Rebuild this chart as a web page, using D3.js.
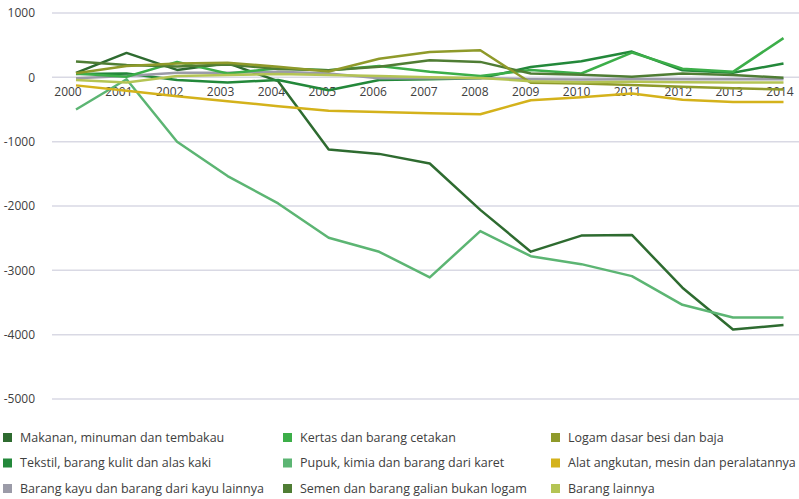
<!DOCTYPE html>
<html><head><meta charset="utf-8">
<script src="https://cdn.jsdelivr.net/npm/d3@7/dist/d3.min.js"></script>
<style>body{margin:0;background:#fff;} svg{display:block;font-family:"Open Sans",sans-serif;}</style>
</head><body><svg id="c" width="799" height="499"></svg>
<script>
const years = ["2000","2001","2002","2003","2004","2005","2006","2007","2008","2009","2010","2011","2012","2013","2014"];
const yTicks = [1000,0,-1000,-2000,-3000,-4000,-5000];
const seriesNames = ["Makanan, minuman dan tembakau","Tekstil, barang kulit dan alas kaki","Barang kayu dan barang dari kayu lainnya","Kertas dan barang cetakan","Pupuk, kimia dan barang dari karet","Semen dan barang galian bukan logam","Logam dasar besi dan baja","Alat angkutan, mesin dan peralatannya","Barang lainnya"];
const seriesColors = ["#2e6b30","#23883a","#9b9ba8","#3cae49","#5cb573","#4f7d34","#8f9a2a","#d4b21b","#b4c454"];
const makanan = [70,380,115,220,-60,-1120,-1190,-1340,-2060,-2710,-2460,-2450,-3270,-3920,-3850];
const tekstil = [50,60,-40,-80,-40,-200,-40,-30,-15,160,250,400,110,70,215];
const barangKayu = [-15,20,70,70,85,60,-15,-15,-15,-30,-35,-30,-30,-30,-30];
const kertas = [60,10,240,60,140,110,175,85,20,115,60,385,135,85,610];
const pupuk = [-500,-30,-1000,-1535,-1960,-2494,-2712,-3110,-2390,-2780,-2904,-3090,-3536,-3733,-3733];
const semen = [245,190,170,200,130,110,165,265,240,60,40,10,60,35,-5];
const logam = [62,176,215,225,165,90,290,395,420,-85,-95,-120,-146,-171,-190];
const alat = [-125,-210,-295,-370,-450,-520,-540,-560,-575,-355,-310,-250,-350,-385,-385];
const lainnya = [-40,-80,20,35,50,35,20,0,-10,-60,-75,-70,-75,-80,-80];
const seriesValues = [makanan,tekstil,barangKayu,kertas,pupuk,semen,logam,alat,lainnya];

const svg = d3.select("#c");
const x = d3.scalePoint().domain(years).range([76,783.5]);
const xLab = d3.scalePoint().domain(years).range([68,780]);
const y = d3.scaleLinear().domain([-5000,1000]).range([399,13]);

// gridlines
svg.append("g").selectAll("line").data(yTicks).join("line")
  .attr("x1",52).attr("x2",799).attr("y1",d=>y(d)).attr("y2",d=>y(d))
  .attr("stroke","#d9d9e4").attr("stroke-width",1.5);
// y labels
svg.append("g").selectAll("text").data(yTicks).join("text")
  .attr("x",35).attr("y",d=>y(d)).attr("dy","0.35em").attr("text-anchor","end")
  .attr("font-size",12).attr("fill","#404040").text(d=>d);
// x labels
svg.append("g").selectAll("text").data(years).join("text")
  .attr("x",d=>xLab(d)).attr("y",92).attr("dy","0.35em").attr("text-anchor","middle")
  .attr("font-size",12).attr("fill","#404040").text(d=>d);

const line = d3.line().x((d,i)=>x(years[i])).y(d=>y(d));
svg.append("g").selectAll("path").data(seriesValues).join("path")
  .attr("d",d=>line(d)).attr("fill","none")
  .attr("stroke",(d,i)=>seriesColors[i]).attr("stroke-width",2.5).attr("stroke-linejoin","round");

// legend (column-major, 3 rows)
const colX = [3,283,551], rowY = [437.5,463,488.5];
const lg = svg.append("g").selectAll("g").data(seriesNames).join("g")
  .attr("transform",(d,i)=>`translate(${colX[Math.floor(i/3)]},${rowY[i%3]})`);
lg.append("rect").attr("x",0).attr("y",-4.5).attr("width",9).attr("height",9).attr("fill",(d,i)=>seriesColors[i]);
lg.append("text").attr("x",17).attr("y",0).attr("dy","0.35em").attr("font-size",12.5).attr("fill","#404040").text(d=>d);
</script></body></html>
